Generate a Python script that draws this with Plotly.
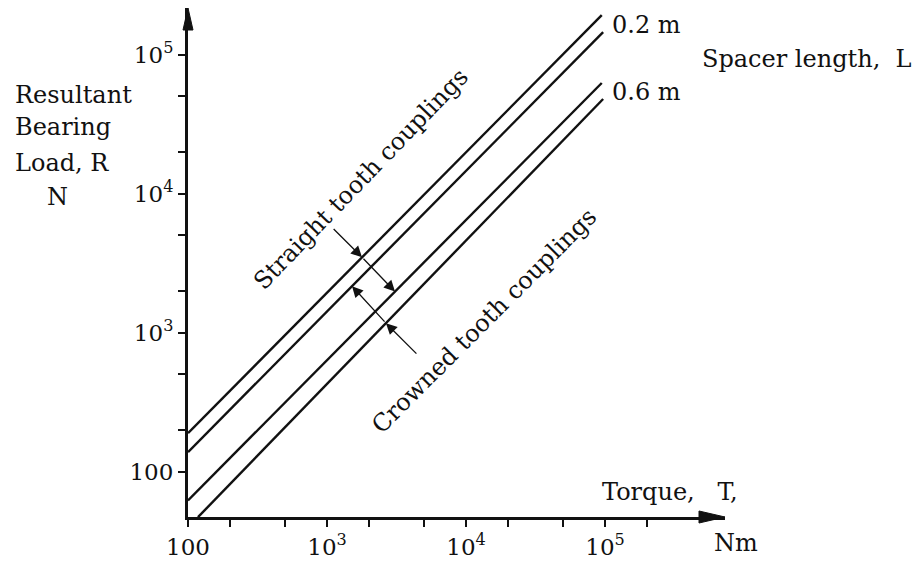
import math
import plotly.graph_objects as go

# ---- data (log-log straight lines, two end points each) ----
torque_straight_02 = [100, 94700]
load_straight_02 = [189, 192000]
torque_crowned_02 = [100, 96900]
load_crowned_02 = [138, 145000]
torque_straight_06 = [100, 94700]
load_straight_06 = [62, 62400]
torque_crowned_06 = [118, 96900]
load_crowned_06 = [47, 47900]

x_tick_vals = [100, 1e3, 1e4, 1e5]
x_tick_text = ["100", "10<sup>3</sup>", "10<sup>4</sup>", "10<sup>5</sup>"]
x_minor_vals = [200, 500, 2e3, 5e3, 2e4, 5e4, 2e5]
y_tick_vals = [100, 1e3, 1e4, 1e5]
y_tick_text = ["100", "10<sup>3</sup>", "10<sup>4</sup>", "10<sup>5</sup>"]
y_minor_vals = [200, 500, 2e3, 5e3, 2e4, 5e4]

spacer_labels = ["0.2 m", "0.6 m"]

FONT = "DejaVu Serif"
INK = "#111111"

fig = go.Figure()
for tx, ry in [(torque_straight_02, load_straight_02), (torque_crowned_02, load_crowned_02),
               (torque_straight_06, load_straight_06), (torque_crowned_06, load_crowned_06)]:
    fig.add_trace(go.Scatter(x=tx, y=ry, mode="lines", line=dict(color=INK, width=2.4),
                             showlegend=False, hoverinfo="skip"))


def log_load_at(tx, ry, logt):
    lt0, lt1 = math.log10(tx[0]), math.log10(tx[1])
    lr0, lr1 = math.log10(ry[0]), math.log10(ry[1])
    return lr0 + (logt - lt0) * (lr1 - lr0) / (lt1 - lt0)


annotations = []


def arrow(tip, tail):
    annotations.append(dict(x=tip[0], y=tip[1], ax=tail[0], ay=tail[1], xref="x", yref="y",
                            axref="x", ayref="y", text="", showarrow=True, arrowhead=2,
                            arrowsize=1.7, arrowwidth=1.3, arrowcolor=INK, standoff=0))


# straight tooth dimension arrows (pointing down-right)
s1 = (3.252, log_load_at(torque_straight_02, load_straight_02, 3.252))
s2 = (3.489, log_load_at(torque_straight_06, load_straight_06, 3.489))
arrow(s1, (s1[0] - 0.215, s1[1] + 0.215))
arrow(s2, s1)
# crowned tooth dimension arrows (pointing up-left)
c1 = (3.180, log_load_at(torque_crowned_02, load_crowned_02, 3.180))
c2 = (3.424, log_load_at(torque_crowned_06, load_crowned_06, 3.424))
arrow(c1, c2)
arrow(c2, (c2[0] + 0.23, c2[1] - 0.23))

txt = dict(family=FONT, size=24, color=INK)


def label(x, y, text, xref="x", yref="y", xanchor="center", angle=0):
    annotations.append(dict(x=x, y=y, xref=xref, yref=yref, text=text, xanchor=xanchor,
                            yanchor="middle", textangle=angle, showarrow=False, font=txt))


label(3.245, 4.104, "Straight tooth couplings", angle=-46)
label(4.129, 3.086, "Crowned tooth couplings", angle=-45)
label(5.036, 5.215, spacer_labels[0], xanchor="left")
label(5.036, 4.728, spacer_labels[1], xanchor="left")
label(5.683, 4.971, "Spacer length,  L", xanchor="left")
label(4.964, 1.853, "Torque,   T,", xanchor="left")
label(1.0205, -0.051, "Nm", xref="paper", yref="paper")
label(-0.3264, 0.829, "Resultant", xref="paper", yref="paper", xanchor="left")
label(-0.3264, 0.766, "Bearing", xref="paper", yref="paper", xanchor="left")
label(-0.3264, 0.695, "Load, R", xref="paper", yref="paper", xanchor="left")
label(-0.2439, 0.629, "N", xref="paper", yref="paper")

# axis arrowheads (narrow filled triangles, pixel-sized)
shapes = [
    dict(type="path", xref="paper", yref="paper", xsizemode="pixel", ysizemode="pixel",
         xanchor=0, yanchor=1, path="M 0 0 L -5 -22 L 5 -22 Z",
         fillcolor=INK, line=dict(color=INK, width=1)),
    dict(type="path", xref="paper", yref="paper", xsizemode="pixel", ysizemode="pixel",
         xanchor=1, yanchor=0, path="M 0 0 L -26 6 L -26 -6 Z",
         fillcolor=INK, line=dict(color=INK, width=1)),
]

axis_common = dict(type="log", showgrid=False, zeroline=False, showline=True, linecolor=INK,
                   linewidth=3, ticks="outside", ticklen=7, tickwidth=2, tickcolor=INK,
                   tickfont=dict(family=FONT, size=23, color=INK), automargin=False)

fig.update_layout(
    width=922, height=562,
    margin=dict(l=188, r=197, t=8, b=45),
    paper_bgcolor="white", plot_bgcolor="white",
    xaxis=dict(range=[2, 5.863], tickmode="array", tickvals=x_tick_vals, ticktext=x_tick_text,
               minor=dict(tickmode="array", tickvals=x_minor_vals, ticks="outside", ticklen=7,
                          tickwidth=2, tickcolor=INK, showgrid=False),
               **axis_common),
    yaxis=dict(range=[1.673, 5.335], tickmode="array", tickvals=y_tick_vals, ticktext=y_tick_text,
               minor=dict(tickmode="array", tickvals=y_minor_vals, ticks="outside", ticklen=7,
                          tickwidth=2, tickcolor=INK, showgrid=False),
               **axis_common),
    annotations=annotations,
    shapes=shapes,
    showlegend=False,
)

fig.write_html("out.html", config={"displayModeBar": False},
               post_script="document.body.style.margin='0';")
